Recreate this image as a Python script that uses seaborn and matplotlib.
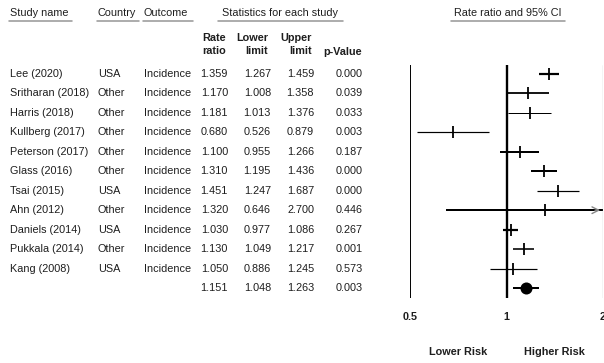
import numpy as np
import pandas as pd
import seaborn as sns
import matplotlib.pyplot as plt
from matplotlib.lines import Line2D
from matplotlib.ticker import NullLocator, FixedLocator, FixedFormatter

studies = ['Lee (2020)', 'Sritharan (2018)', 'Harris (2018)', 'Kullberg (2017)', 'Peterson (2017)',
           'Glass (2016)', 'Tsai (2015)', 'Ahn (2012)', 'Daniels (2014)', 'Pukkala (2014)', 'Kang (2008)']
countries = ['USA', 'Other', 'Other', 'Other', 'Other', 'Other', 'USA', 'Other', 'USA', 'Other', 'USA']
outcome = 'Incidence'
rate_ratio = [1.359, 1.170, 1.181, 0.680, 1.100, 1.310, 1.451, 1.320, 1.030, 1.130, 1.050]
lower = [1.267, 1.008, 1.013, 0.526, 0.955, 1.195, 1.247, 0.646, 0.977, 1.049, 0.886]
upper = [1.459, 1.358, 1.376, 0.879, 1.266, 1.436, 1.687, 2.700, 1.086, 1.217, 1.245]
p_value = ['0.000', '0.039', '0.033', '0.003', '0.187', '0.000', '0.000', '0.446', '0.267', '0.001', '0.573']
summary = [1.151, 1.048, 1.263]
summary_p = '0.003'
# approximate line weight per study (px)
weights = [2.2, 1.8, 1.0, 1.2, 2.0, 2.0, 1.2, 2.0, 2.2, 1.6, 1.2]
axis_ticks = [0.5, 1, 2]
axis_labels = ['0.5', '1', '2']

df = pd.DataFrame({'study': studies, 'rr': rate_ratio, 'lo': lower, 'hi': upper})
df['row'] = np.arange(len(df))
summ = pd.DataFrame({'rr': [summary[0]], 'lo': [summary[1]], 'hi': [summary[2]], 'row': [len(df)]})

sns.set_theme(style='white')
plt.rcParams['font.family'] = ['Liberation Sans', 'DejaVu Sans']
TXT = '#1e1e1e'
FS = 7.8

W, H = 604, 363
fig = plt.figure(figsize=(W / 100, H / 100), dpi=100)

y_top, y_bot = 65, 298
x_left, x_right = 410, 603
ax = fig.add_axes([x_left / W, 1 - y_bot / H, (x_right - x_left) / W, (y_bot - y_top) / H])
tab = fig.add_axes([0, 1 - y_bot / H, x_left / W, (y_bot - y_top) / H], sharey=ax)

px = 0.72  # points per pixel

# confidence intervals
ax.hlines(df['row'], df['lo'], df['hi'], colors='black', linewidths=[w * px for w in weights])
ax.hlines(summ['row'], summ['lo'], summ['hi'], colors='black', linewidth=2 * px)
sns.scatterplot(data=df, x='rr', y='row', marker='|', s=80, color='black', linewidth=1.3, ax=ax, legend=False, zorder=3)
sns.scatterplot(data=summ, x='rr', y='row', marker='o', s=75, color='black', linewidth=0, ax=ax, legend=False, zorder=3)

# arrow for truncated CI (Ahn)
ahn = studies.index('Ahn (2012)')
ax.annotate('', xy=(2, ahn), xytext=(1.85, ahn),
            arrowprops=dict(arrowstyle='->', color='#888888', lw=1.0, mutation_scale=12), annotation_clip=False)

ax.axvline(0.5, color='black', lw=1.4)
ax.axvline(1, color='black', lw=1.7)
ax.axvline(2, color='#aaaaaa', lw=0.9)

ax.set_xscale('log', base=2)
ax.set_xlim(0.5, 2)
ax.set_ylim(11.51, -0.46)
ax.xaxis.set_major_locator(FixedLocator(axis_ticks))
ax.xaxis.set_major_formatter(FixedFormatter(axis_labels))
ax.xaxis.set_minor_locator(NullLocator())
ax.tick_params(axis='x', length=0, pad=10, labelsize=FS, labelcolor=TXT)
for t in ax.get_xticklabels():
    t.set_fontweight('bold')
ax.set_yticks([])
ax.set_xlabel('')
ax.set_ylabel('')
for s in ax.spines.values():
    s.set_visible(False)
ax.patch.set_alpha(0)

ax.text(np.sqrt(0.5), -0.232, 'Lower Risk', transform=ax.get_xaxis_transform(), ha='center', va='center',
        fontsize=FS, fontweight='bold', color=TXT)
ax.text(np.sqrt(2), -0.232, 'Higher Risk', transform=ax.get_xaxis_transform(), ha='center', va='center',
        fontsize=FS, fontweight='bold', color=TXT)

# table
tab.set_xlim(0, x_left)
tab.axis('off')
for i in range(len(studies)):
    tab.text(10, i, studies[i], ha='left', va='center', fontsize=FS, color=TXT)
    tab.text(98, i, countries[i], ha='left', va='center', fontsize=FS, color=TXT)
    tab.text(144, i, outcome, ha='left', va='center', fontsize=FS, color=TXT)
    tab.text(228, i, f'{rate_ratio[i]:.3f}', ha='right', va='center', fontsize=FS, color=TXT)
    tab.text(271, i, f'{lower[i]:.3f}', ha='right', va='center', fontsize=FS, color=TXT)
    tab.text(314, i, f'{upper[i]:.3f}', ha='right', va='center', fontsize=FS, color=TXT)
    tab.text(363, i, p_value[i], ha='right', va='center', fontsize=FS, color=TXT)
n = len(studies)
tab.text(228, n, f'{summary[0]:.3f}', ha='right', va='center', fontsize=FS, color=TXT)
tab.text(271, n, f'{summary[1]:.3f}', ha='right', va='center', fontsize=FS, color=TXT)
tab.text(314, n, f'{summary[2]:.3f}', ha='right', va='center', fontsize=FS, color=TXT)
tab.text(363, n, summary_p, ha='right', va='center', fontsize=FS, color=TXT)


def fx(x):
    return x / W


def fy(y):
    return 1 - y / H


# headers
for label, x0, x1 in [('Study name', 9, 72), ('Country', 97, 139), ('Outcome', 143, 193),
                      ('Statistics for each study', 218, 343), ('Rate ratio and 95% CI', 451, 565)]:
    centered = label in ('Statistics for each study', 'Rate ratio and 95% CI')
    fig.text(fx((x0 + x1) / 2 if centered else x0 + 1), fy(13), label,
             ha='center' if centered else 'left', va='center', fontsize=FS, color=TXT)
    fig.add_artist(Line2D([fx(x0), fx(x1)], [fy(21), fy(21)], color='#9a9a9a', lw=1.6 * px))

for label, xr in [('Rate\nratio', 226), ('Lower\nlimit', 268), ('Upper\nlimit', 312)]:
    fig.text(fx(xr), fy(44.5), label, ha='right', va='center', multialignment='right', linespacing=1.45,
             fontsize=FS, fontweight='bold', color=TXT)
fig.text(fx(362), fy(52), 'p-Value', ha='right', va='center', fontsize=FS, fontweight='bold', color=TXT)

fig.savefig('out.png', dpi=100)
